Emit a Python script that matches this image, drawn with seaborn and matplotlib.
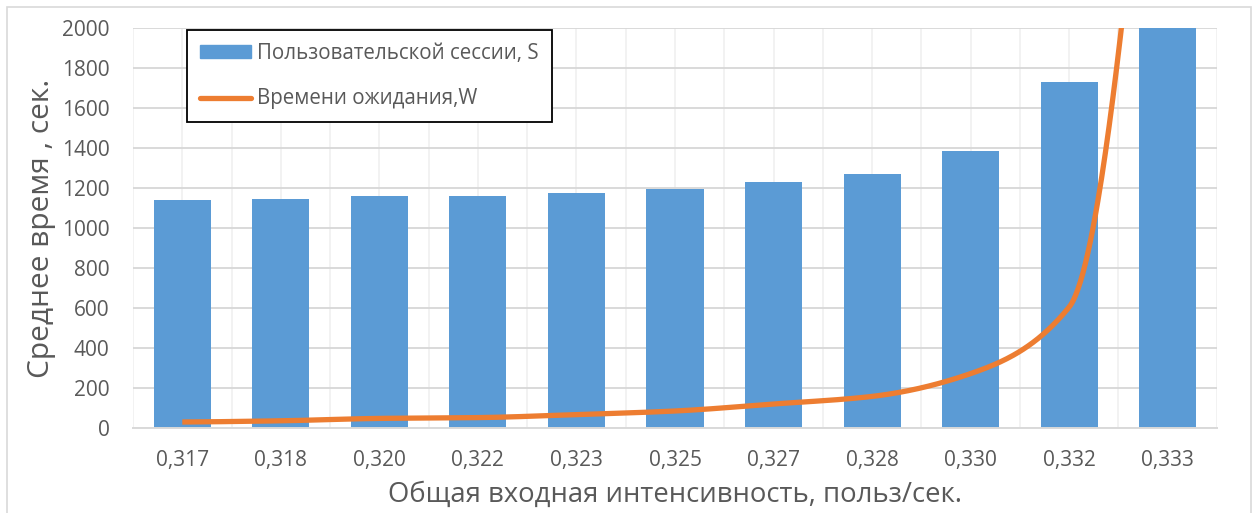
import numpy as np
import pandas as pd
import matplotlib
matplotlib.use("Agg")
import matplotlib.pyplot as plt
import matplotlib.patches as mpatches
from matplotlib.lines import Line2D
import seaborn as sns

# ---- data ----
categories = ["0,317", "0,318", "0,320", "0,322", "0,323", "0,325",
              "0,327", "0,328", "0,330", "0,332", "0,333"]
session_S = [1138, 1145, 1158, 1162, 1177, 1195, 1232, 1272, 1385, 1728, 5490]
waiting_W = [30, 36, 48, 52, 67, 85, 120, 158, 272, 605, 4360]
y_ticks = [0, 200, 400, 600, 800, 1000, 1200, 1400, 1600, 1800, 2000]
label_S = "Пользовательской сессии, S"
label_W = "Времени ожидания,W"
xlabel = "Общая входная интенсивность, польз/сек."
ylabel = "Среднее время , сек."

BAR = "#5B9BD5"
LINE = "#ED7D31"
TXT = "#595959"

sns.set_theme(style="white")
plt.rcParams['font.family'] = ['Open Sans', 'DejaVu Sans']

W_px, H_px = 1255, 513
fig = plt.figure(figsize=(W_px / 100, H_px / 100), dpi=100)
ax = fig.add_axes([133 / W_px, 1 - 428 / H_px, (1217 - 133) / W_px, 400 / H_px])

df = pd.DataFrame({"cat": categories, "S": session_S, "W": waiting_W})

# gridlines (behind)
n = len(categories)
for b in np.arange(-0.5, n, 0.5):
    ax.axvline(b, color="#efefef", lw=1.1, zorder=0)
for t in y_ticks:
    ax.axhline(t, color="#d9d9d9", lw=1.4, zorder=0.5)

sns.barplot(data=df, x="cat", y="S", color=BAR, saturation=1, width=0.58,
            ax=ax, zorder=2, edgecolor="none")

# smoothed line (monotone cubic through the data points)
y = np.asarray(df["W"], dtype=float)
x = np.arange(n, dtype=float)
d = np.diff(y)
m = np.empty(n)
for i in range(1, n - 1):
    if d[i - 1] * d[i] <= 0:
        m[i] = 0
    else:
        m[i] = 2 * d[i - 1] * d[i] / (d[i - 1] + d[i])
m[0] = (3 * d[0] - d[1]) / 2
m[-1] = (3 * d[-1] - d[-2]) / 2
xs, ys = [], []
for i in range(n - 1):
    t = np.linspace(0, 1, 80)
    h00 = 2 * t**3 - 3 * t**2 + 1
    h10 = t**3 - 2 * t**2 + t
    h01 = -2 * t**3 + 3 * t**2
    h11 = t**3 - t**2
    xs.append(x[i] + t)
    ys.append(h00 * y[i] + h10 * m[i] + h01 * y[i + 1] + h11 * m[i + 1])
smooth = pd.DataFrame({"x": np.concatenate(xs), "y": np.concatenate(ys)})
ax.plot(smooth["x"], smooth["y"], color=LINE, lw=3.8, solid_capstyle="butt",
        zorder=3)

ax.set_xlim(-0.5, n - 0.5)
ax.set_ylim(0, 2000)
ax.set_yticks(y_ticks)
ax.set_yticklabels([str(v) for v in y_ticks])
ax.tick_params(axis="y", length=0, pad=17, labelsize=15, labelcolor=TXT)
ax.tick_params(axis="x", length=0, pad=16, labelsize=15, labelcolor=TXT)
for s in ["left", "right", "top"]:
    ax.spines[s].set_visible(False)
ax.spines["bottom"].set_color("#d9d9d9")
ax.spines["bottom"].set_linewidth(1.4)
ax.set_xlabel(xlabel, fontsize=19.8, color=TXT, labelpad=7)
ax.set_ylabel(ylabel, fontsize=21.5, color=TXT, labelpad=4)
ax.grid(False)

handles = [mpatches.Patch(color=BAR), Line2D([0], [0], color=LINE, lw=3.8)]
leg = ax.legend(handles, [label_S, label_W], loc="upper left",
                bbox_to_anchor=(54 / 1084, 398 / 400), fontsize=14.8,
                frameon=True, fancybox=False, framealpha=1,
                edgecolor="black", handlelength=2.5, handleheight=0.6,
                handletextpad=0.3, labelspacing=1.2, borderpad=0.62,
                borderaxespad=0)
leg.get_frame().set_linewidth(1.3)
for t in leg.get_texts():
    t.set_color(TXT)
leg.set_zorder(5)

# outer chart border
fig.patches.append(mpatches.Rectangle((7 / W_px, -0.02), (1251 - 7) / W_px,
                                      1.02 - 7 / H_px, transform=fig.transFigure,
                                      fill=False, edgecolor="#d9d9d9", lw=1.2))

fig.savefig("out.png", dpi=100)
